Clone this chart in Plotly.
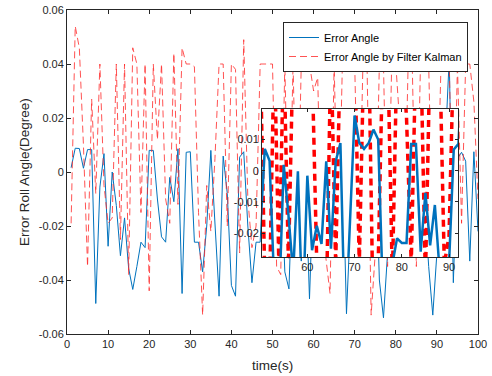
import plotly.graph_objects as go

# ---- data ----
time_s = list(range(1, 101))

error_angle = [
    0.0016, 0.0088, 0.0087, 0.0014, 0.0083, 0.0083, -0.0487, -0.0056, 0.0068, -0.0275,
    0.0000, -0.0124, -0.0310, -0.0170, -0.0357, -0.0435, -0.0350, -0.0260, -0.0280, 0.0080,
    0.0080, -0.0100, -0.0240, -0.0260, -0.0020, -0.0110, 0.0086, -0.0450, 0.0073, 0.0075,
    -0.0260, -0.0260, -0.0370, -0.0200, 0.0080, -0.0180, -0.0460, 0.0059, -0.0080, -0.0420,
    -0.0460, 0.0055, 0.0075, -0.0200, -0.0410, -0.0260, -0.0260, 0.0086, 0.0020, -0.0200,
    0.0070, 0.0032, -0.0370, -0.0433, 0.0019, -0.0142, -0.0330, -0.0002, -0.0470, -0.0016,
    -0.0255, -0.0177, -0.0235, 0.0030, -0.0250, 0.0030, 0.0089, -0.0525, -0.0170, 0.0177,
    0.0089, 0.0070, 0.0089, 0.0132, 0.0100, -0.0400, -0.0540, -0.0300, -0.0217, -0.0232,
    -0.0232, 0.0086, 0.0086, -0.0260, -0.0071, -0.0240, -0.0110, -0.0350, -0.0530, -0.0300,
    0.0068, 0.0086, 0.0420, -0.0410, 0.0050, 0.0073, 0.0040, -0.0330, 0.0075, -0.0220,
]

error_kalman = [
    -0.019, 0.054, 0.046, 0.010, -0.035, 0.027, -0.008, 0.040, -0.005, -0.019,
    -0.017, 0.040, -0.025, 0.040, -0.038, 0.046, 0.040, -0.015, 0.040, -0.044,
    0.040, 0.012, 0.040, -0.010, -0.019, 0.044, -0.012, 0.046, 0.040, 0.040,
    0.039, -0.015, -0.053, -0.005, -0.022, 0.005, 0.040, 0.040, -0.020, 0.040,
    0.038, -0.030, 0.049, -0.010, -0.028, -0.020, 0.040, 0.040, 0.040, 0.040,
    -0.035, -0.038, 0.040, -0.032, 0.040, -0.030, 0.040, 0.040, 0.040, 0.030,
    0.035, -0.030, -0.032, -0.045, 0.040, -0.030, 0.040, 0.040, 0.040, 0.040,
    -0.030, 0.040, 0.040, -0.053, -0.030, 0.040, 0.040, -0.035, 0.040, 0.040,
    0.017, -0.030, 0.040, 0.040, -0.035, 0.040, 0.040, 0.040, -0.030, -0.021,
    0.040, 0.040, 0.040, -0.030, 0.040, -0.019, 0.040, 0.040, 0.026, -0.010,
]

x_ticks = [0, 10, 20, 30, 40, 50, 60, 70, 80, 90, 100]
y_ticks = [-0.06, -0.04, -0.02, 0, 0.02, 0.04, 0.06]
y_tick_labels = ["-0.06", "-0.04", "-0.02", "0", "0.02", "0.04", "0.06"]
inset_x_ticks = [60, 70, 80, 90]
inset_y_ticks = [-0.02, -0.01, 0, 0.01]
inset_y_tick_labels = ["-0.02", "-0.01", "0", "0.01"]
inset_x_range = [50.4, 91.9]
inset_y_range = [-0.0277, 0.0198]

BLUE = "#0072BD"
AX = "#262626"
FONT = "Liberation Sans, Arial, sans-serif"

fig = go.Figure()

# main plot
fig.add_trace(go.Scatter(
    x=time_s, y=error_angle, mode="lines", name="Error Angle",
    line=dict(color=BLUE, width=1), xaxis="x", yaxis="y",
))
fig.add_trace(go.Scatter(
    x=time_s, y=error_kalman, mode="lines", name="Error Angle by Filter Kalman",
    line=dict(color="rgba(255,40,40,0.8)", width=1, dash="7px,4px"), xaxis="x", yaxis="y",
))

# inset (zoomed view)
fig.add_trace(go.Scatter(
    x=time_s, y=error_kalman, mode="lines", showlegend=False,
    line=dict(color="#FF0000", width=3.5, dash="7px,5px"), xaxis="x2", yaxis="y2",
))
fig.add_trace(go.Scatter(
    x=time_s, y=error_angle, mode="lines", showlegend=False,
    line=dict(color=BLUE, width=2.5), xaxis="x2", yaxis="y2",
))

W, H = 492, 376
ml, mr, mt, mb = 67, 14, 10, 42
pw, ph = W - ml - mr, H - mt - mb

def px_x(p):
    return (p - ml) / pw

def px_y(p):
    return (H - mb - p) / ph

axis_common = dict(
    showline=True, linecolor=AX, linewidth=1, mirror="ticks",
    ticks="inside", tickcolor=AX, tickwidth=1, showgrid=False, zeroline=False,
    tickfont=dict(family=FONT, size=11, color=AX), automargin=False,
)

fig.update_layout(
    width=W, height=H,
    margin=dict(l=ml, r=mr, t=mt, b=mb, pad=0),
    paper_bgcolor="white", plot_bgcolor="white",
    font=dict(family=FONT, color=AX),
    showlegend=True,
    legend=dict(
        x=px_x(283), y=px_y(22), xanchor="left", yanchor="top",
        bgcolor="white", bordercolor=AX, borderwidth=1,
        font=dict(family=FONT, size=11, color="#000000"),
        tracegroupgap=0,
    ),
    xaxis=dict(
        **axis_common, range=[0, 100], tickvals=x_ticks, ticklen=4,
        domain=[0, 1], anchor="y",
    ),
    yaxis=dict(
        **axis_common, range=[-0.06, 0.06], tickvals=y_ticks, ticktext=y_tick_labels,
        ticklen=4, domain=[0, 1], anchor="x",
    ),
    xaxis2=dict(
        **axis_common, range=inset_x_range, tickvals=inset_x_ticks, ticklen=3,
        domain=[px_x(262), px_x(458)], anchor="y2",
    ),
    yaxis2=dict(
        **axis_common, range=inset_y_range, tickvals=inset_y_ticks, ticktext=inset_y_tick_labels,
        ticklen=3, domain=[px_y(257), px_y(109)], anchor="x2",
    ),
    annotations=[
        dict(text="time(s)", x=0.5, xref="paper", y=px_y(365), yref="paper",
             showarrow=False, xanchor="center", yanchor="middle",
             font=dict(family=FONT, size=13.5, color=AX)),
        dict(text="Error Roll Angle(Degree)", x=px_x(24), xref="paper", y=0.5, yref="paper",
             showarrow=False, xanchor="center", yanchor="middle", textangle=-90,
             font=dict(family=FONT, size=13.5, color=AX)),
    ],
)

fig.write_html(
    "out.html",
    config={"displayModeBar": False},
    post_script="document.body.style.margin='0';document.body.style.overflow='hidden';",
)
